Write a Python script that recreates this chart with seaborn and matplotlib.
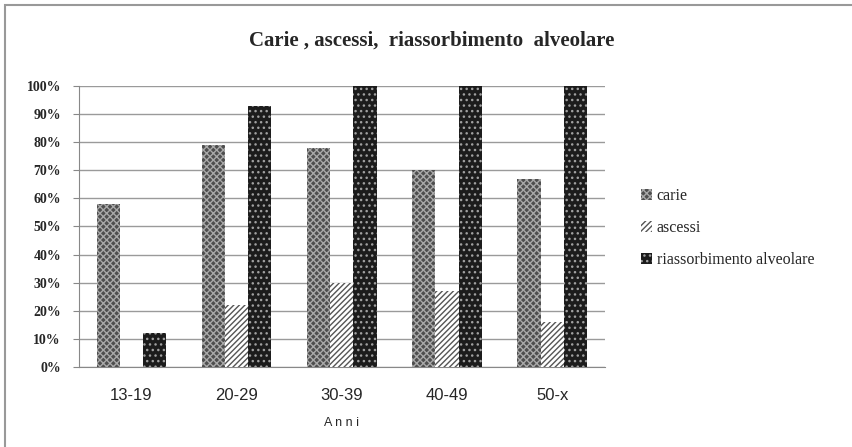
import numpy as np
import pandas as pd
import seaborn as sns
import matplotlib.pyplot as plt
from matplotlib.patches import Patch, Rectangle

# data
anni = ["13-19", "20-29", "30-39", "40-49", "50-x"]
carie = [58, 79, 78, 70, 67]
ascessi = [0, 22, 30, 27, 16]
riassorbimento = [12, 93, 100, 100, 100]
serie = ["carie", "ascessi", "riassorbimento alveolare"]

df = pd.DataFrame({
    "Anni": anni * 3,
    "valore": carie + ascessi + riassorbimento,
    "serie": [serie[0]] * 5 + [serie[1]] * 5 + [serie[2]] * 5,
})

sns.set_style("white")
plt.rcParams["hatch.linewidth"] = 1.0

fig = plt.figure(figsize=(8.52, 4.47), dpi=100)
ax = fig.add_axes([0.0927, 0.179, 0.617, 0.629])

facce = ["#4e4e4e", "white", "#1c1c1c"]
tratti = ["xxxxx", "//////", "..."]
bordi = ["#a8a8a8", "#555555", "#a0a0a0"]

sns.barplot(data=df, x="Anni", y="valore", hue="serie", hue_order=serie,
            palette=facce, width=0.66, gap=0, ax=ax, legend=False, zorder=3)

for cont, fc, h, ec in zip(ax.containers, facce, tratti, bordi):
    for bar in cont:
        bar.set_facecolor(fc)
        bar.set_hatch(h)
        bar.set_edgecolor(ec)
        bar.set_linewidth(0)

ax.set_ylim(0, 100)
ax.set_xlim(-0.5, 4.5)
ax.set_yticks(np.arange(0, 101, 10))
ax.set_yticklabels([f"{v}%" for v in range(0, 101, 10)],
                   fontfamily="Liberation Serif", fontweight="bold", fontsize=10)
ax.set_xticks(range(5))
ax.set_xticklabels(anni, fontfamily="Liberation Sans", fontsize=12)
ax.set_xticks(np.arange(-0.5, 5, 1), minor=True)
ax.tick_params(axis="x", which="major", length=0, pad=15)
ax.tick_params(axis="x", which="minor", length=4, color="#888888", direction="out")
ax.tick_params(axis="y", length=4, color="#888888", direction="out", left=True, pad=9)
ax.grid(axis="y", color="#9a9a9a", linewidth=1, zorder=0)
ax.set_axisbelow(True)
for s in ["top", "right"]:
    ax.spines[s].set_visible(False)
for s in ["left", "bottom"]:
    ax.spines[s].set_color("#888888")
ax.set_ylabel("")
ax.set_xlabel("A n n i", fontfamily="Liberation Sans", fontsize=9, labelpad=10)

fig.text(0.507, 0.91, "Carie , ascessi,  riassorbimento  alveolare",
         ha="center", va="center", fontfamily="Liberation Serif",
         fontweight="bold", fontsize=15)

handles = [Patch(facecolor=fc, hatch=h, edgecolor=ec, linewidth=0)
           for fc, h, ec in zip(facce, tratti, bordi)]
fig.legend(handles, serie, loc="center left", bbox_to_anchor=(0.735, 0.49),
           frameon=False, prop={"family": "Liberation Serif", "size": 11.5},
           handlelength=0.7, handleheight=0.7, handletextpad=0.3,
           labelspacing=1.0)

fig.patches.append(Rectangle((0.006, -0.01), 1.0, 0.999, transform=fig.transFigure,
                             fill=False, edgecolor="#999999", linewidth=1.5))

fig.savefig("out.png", dpi=100)
